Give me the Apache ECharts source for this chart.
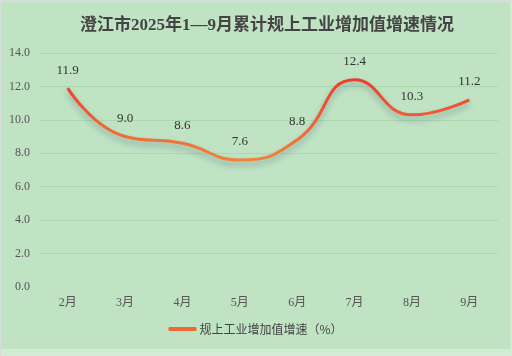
<!DOCTYPE html>
<html><head><meta charset="utf-8">
<script src="https://cdn.jsdelivr.net/npm/echarts@6/dist/echarts.min.js"></script>
<style>
html,body{margin:0;padding:0;width:512px;height:356px;background:#d3ebd5;overflow:hidden;}
#top{position:absolute;left:0;top:0;width:512px;height:2px;background:#d9dcd9;}
#left{position:absolute;left:0;top:0;width:1px;height:356px;background:#d9dcd9;}
#c{position:absolute;left:1px;top:2px;width:509px;height:347px;}
</style></head>
<body><div id="top"></div><div id="left"></div><div id="c"></div>
<script>
const titleText = '澄江市2025年1—9月累计规上工业增加值增速情况';
const categories = ['2月','3月','4月','5月','6月','7月','8月','9月'];
const seriesName = '规上工业增加值增速（%）';
const values = [11.9, 9.0, 8.6, 7.6, 8.8, 12.4, 10.3, 11.2];

const chart = echarts.init(document.getElementById('c'));
const grad = new echarts.graphic.LinearGradient(0,0,0,1,[
  {offset:0,color:'#f03a2a'},{offset:1,color:'#f0843a'}]);
chart.setOption({
  backgroundColor:'#c0e3c4',
  animation:false,
  title:{text:titleText,left:74,top:10,
    textStyle:{fontFamily:'Liberation Serif, "Noto Sans CJK SC"',fontSize:17,fontWeight:'bold',color:'#444'}},
  legend:{bottom:9,left:'center',itemWidth:28,itemHeight:4,itemGap:10,icon:'roundRect',
    data:[{name:seriesName,itemStyle:{color:'#ef6a32'}}],
    textStyle:{fontFamily:'"Noto Sans CJK SC", sans-serif',fontSize:12,color:'#444',padding:[0,0,0,-2]}},
  grid:{left:38,right:12,top:51,bottom:62},
  xAxis:{type:'category',data:categories,boundaryGap:true,
    axisLine:{lineStyle:{color:'#d0dcd0'}},axisTick:{show:false},
    axisLabel:{margin:10,fontFamily:'Liberation Serif, "Noto Sans CJK SC"',fontSize:12,color:'#555'}},
  yAxis:{type:'value',min:0,max:14,interval:2,
    axisLine:{show:false},axisTick:{show:false},
    splitLine:{lineStyle:{color:'#a9d9ad'}},
    axisLabel:{margin:9,formatter:v=>v.toFixed(1),fontFamily:'Liberation Serif, serif',fontSize:12,color:'#555'}},
  series:[{name:seriesName,type:'line',data:values,smooth:true,
    symbol:'circle',symbolSize:9,showSymbol:true,
    itemStyle:{color:'transparent',borderWidth:0},
    lineStyle:{width:3,color:grad,shadowColor:'rgba(60,90,110,0.45)',shadowBlur:6,shadowOffsetY:4},
    label:{show:true,position:'top',distance:7,formatter:p=>p.value.toFixed(1),
      fontFamily:'Liberation Serif, serif',fontSize:13,color:'#333'}}]
});
</script></body></html>
